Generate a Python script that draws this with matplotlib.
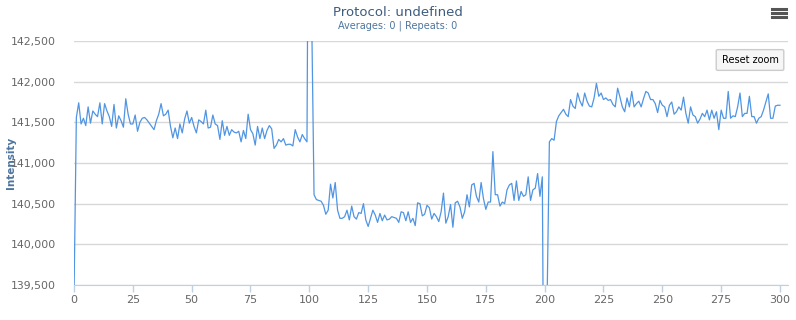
import numpy as np
import matplotlib.pyplot as plt
from matplotlib.lines import Line2D
from matplotlib.ticker import FuncFormatter

# intensity readings, split by the visible regions of the trace
first_plateau = [
    139350, 141560, 141740, 141480, 141550, 141460, 141690, 141490, 141640, 141600,
    141570, 141740, 141480, 141730, 141640, 141570, 141450, 141720, 141430, 141580,
    141520, 141440, 141790, 141600, 141480, 141480, 141590, 141390, 141500, 141550,
    141560, 141530, 141490, 141450, 141410, 141520, 141600, 141730, 141580, 141600,
    141650, 141450, 141310, 141430, 141300, 141480, 141370, 141540, 141640, 141490,
    141560, 141450, 141370, 141530, 141510, 141480, 141650, 141430, 141440, 141590,
    141480, 141460, 141290, 141520, 141340, 141450, 141340, 141410, 141380, 141370,
    141390, 141260, 141400, 141300, 141600, 141410, 141360, 141220, 141450, 141300,
    141430, 141300, 141400, 141460, 141420, 141180, 141220, 141290, 141260, 141300,
    141220, 141230, 141230, 141210, 141410, 141320, 141260, 141350, 141300, 141260,
]
spike_up = [147000, 142800]
low_plateau = [
    140610, 140550, 140540, 140530, 140480, 140370, 140420, 140740, 140570, 140760,
    140420, 140320, 140320, 140340, 140420, 140300, 140470, 140340, 140310, 140390,
    140380, 140500, 140300, 140220, 140320, 140420, 140360, 140270, 140380, 140290,
    140360, 140300, 140310, 140340, 140330, 140320, 140270, 140400, 140390, 140290,
    140400, 140270, 140320, 140230, 140510, 140500, 140350, 140370, 140480, 140450,
    140310, 140380, 140340, 140280, 140400, 140630, 140260, 140340, 140490, 140210,
    140510, 140530, 140460, 140320, 140400, 140610, 140460, 140730, 140750, 140590,
    140520, 140760, 140560, 140430, 140520, 140520, 141140, 140610, 140610, 140470,
    140520, 140500, 140670, 140730, 140750, 140540, 140780, 140540, 140650, 140590,
    140610, 140830, 140540, 140670, 140690, 140870, 140590, 140830,
]
spike_down = [136180, 139250]
high_plateau = [
    141260, 141300, 141280, 141510, 141580, 141620, 141660, 141600, 141570, 141780,
    141700, 141670, 141860, 141760, 141700, 141860, 141760, 141700, 141690, 141800,
    141980, 141820, 141860, 141780, 141800, 141770, 141780, 141720, 141690, 141920,
    141810, 141690, 141630, 141800, 141690, 141880, 141690, 141730, 141760, 141690,
    141790, 141880, 141860, 141780, 141780, 141730, 141620, 141770, 141710, 141690,
    141570, 141710, 141750, 141600, 141630, 141690, 141650, 141810, 141610, 141490,
    141690, 141590, 141570, 141490, 141540, 141610, 141570, 141650, 141530, 141650,
    141550, 141630, 141410, 141650, 141550, 141550, 141880, 141550, 141580, 141570,
    141690, 141860, 141570, 141610, 141610, 141820, 141570, 141570, 141490, 141550,
    141570, 141650, 141750, 141850, 141550, 141550, 141700, 141710, 141710,
]

x_ticks = [0, 25, 50, 75, 100, 125, 150, 175, 200, 225, 250, 275, 300]
y_ticks = [139500, 140000, 140500, 141000, 141500, 142000, 142500]

intensity = np.array(first_plateau + spike_up + low_plateau + spike_down + high_plateau)
samples = np.arange(len(intensity))

W, H = 796, 320
fig = plt.figure(figsize=(W / 100, H / 100), dpi=100)
ax = fig.add_axes([74 / W, 35 / H, 714 / W, 244 / H])

ax.plot(samples, intensity, color='#5095e3', linewidth=0.9)

# plot area runs a bit past the last tick, like the original
ax.set_xlim(0, 303.4)
ax.set_ylim(139500, 142500)
ax.set_xticks(x_ticks)
ax.set_yticks(y_ticks)
ax.yaxis.set_major_formatter(FuncFormatter(lambda v, p: f'{int(v):,}'))

ax.grid(axis='y', color='#d8d8d8', linewidth=1)
ax.set_axisbelow(True)
for side in ['top', 'right', 'left']:
    ax.spines[side].set_visible(False)
ax.spines['bottom'].set_color('#C0D0E0')
ax.tick_params(axis='x', colors='#C0D0E0', length=5, width=1, labelcolor='#666666',
               labelsize=8, pad=2)
ax.tick_params(axis='y', length=0, labelcolor='#666666', labelsize=7.8, pad=13)

ax.set_ylabel('Intensity', color='#4d759e', fontsize=7.5, fontweight='bold')
ax.yaxis.set_label_coords((16 - 74) / 714, 0.5)

# title block
fig.text(0.5, 1 - 12 / H, 'Protocol: undefined', ha='center', va='center',
         fontsize=9.5, color='#3e5c7e')
fig.text(0.5, 1 - 26 / H, 'Averages: 0 | Repeats: 0', ha='center', va='center',
         fontsize=7, color='#4d759e')

# export menu icon
for yy in [9, 13, 17]:
    fig.add_artist(Line2D([772 / W, 786 / W], [1 - yy / H, 1 - yy / H],
                          color='#555555', linewidth=2.2))

# reset zoom button
fig.text(750 / W, 1 - 60 / H, 'Reset zoom', ha='center', va='center', fontsize=7,
         color='#000000',
         bbox=dict(boxstyle='round,pad=0.55,rounding_size=0.15', facecolor='#f6f6f6',
                   edgecolor='#cccccc', linewidth=1))

fig.savefig('out.png', dpi=100)
